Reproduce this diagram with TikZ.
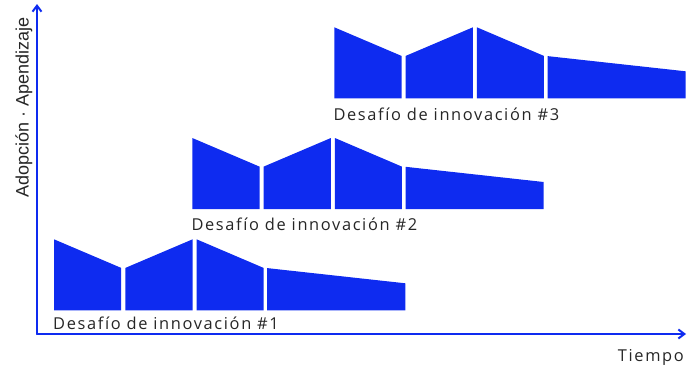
\documentclass[tikz,border=0pt]{standalone}
\usepackage{fontspec}
\setmainfont{Open Sans}
\newfontfamily\widefont[LetterSpace=10]{Open Sans}
\newfontfamily\axisfont{Liberation Sans}
\usetikzlibrary{arrows.meta}
\definecolor{chartblue}{RGB}{14,43,240}
\tikzset{>={Straight Barb[length=6pt,width=9pt]},
every picture/.append style={
    line join=round,
    line cap=round
  }}

\begin{document}
\begin{tikzpicture}[x=1pt,y=-1pt,
    phase/.style={fill=chartblue},
    axis/.style={draw=chartblue,line width=2pt,->},
    caption/.style={inner sep=0pt,font=\widefont\fontsize{16.4}{19}\selectfont,text=black!85}]
        \useasboundingbox (0,0) rectangle (694,367);
        \coordinate (origin) at (37,334);
        \coordinate (ytop) at (37,4);
        \coordinate (xend) at (686,334);
        \draw [axis] (origin) -- (ytop);
        \draw [axis] (origin) -- (xend);
        \node [caption,anchor=base east] (tiempo) at (684,361) {Tiempo};
        \node [caption,font=\axisfont\fontsize{18}{22}\selectfont,rotate=90,anchor=base west] (adopcion) at (28.5,197.5) {Adopción · Apendizaje};
        % three challenges, each with four phases
        \foreach \px/\py/\n/\d in {54/310.3/1/19.4, 192.3/209/2/21, 334.3/98.3/3/21.7} {
            \begin{scope}[shift={(\px,\py)}]
                \fill [phase] (0,0) -- (0,-71) -- (67.2,-42.4) -- (67.2,0) -- cycle;
                \fill [phase] (71.4,0) -- (71.4,-42.4) -- (138.6,-71) -- (138.6,0) -- cycle;
                \fill [phase] (142.6,0) -- (142.6,-71) -- (209.6,-42.4) -- (209.6,0) -- cycle;
                \fill [phase] (213.2,0) -- (213.2,-42.2) -- (351.4,-27) -- (351.4,0) -- cycle;
                \node [caption,anchor=base west] (reto\n) at (-1,\d) {Desafío de innovación \#\n};
            \end{scope}
        }
\end{tikzpicture}
\end{document}
